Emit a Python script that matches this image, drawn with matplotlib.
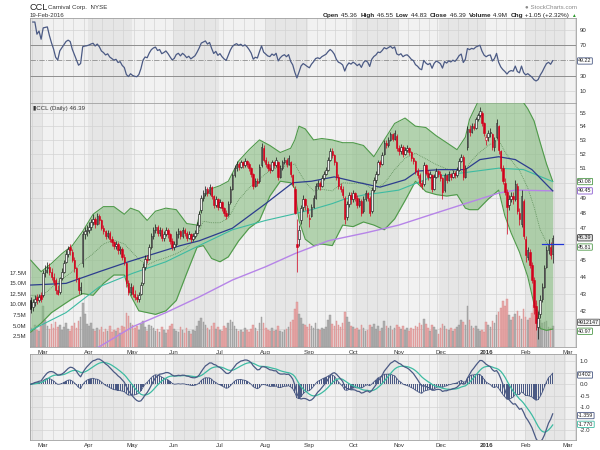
import numpy as np
import pandas as pd
import matplotlib
matplotlib.use("Agg")
import matplotlib.pyplot as plt
import matplotlib.transforms as mtransforms
from matplotlib.ticker import FixedLocator, FixedFormatter, NullLocator

plt.rcParams['font.family'] = ['Liberation Sans', 'DejaVu Sans']

# ---------------- data ----------------
HOLIDAYS = ['2015-04-03', '2015-05-25', '2015-07-03', '2015-09-07', '2015-11-26',
            '2015-12-25', '2016-01-01', '2016-01-18', '2016-02-15']
START, END, AXIS_END = '2015-02-20', '2016-02-19', '2016-03-11'

OPEN = [42.6, 42.2, 42.5, 42.8, 42.6, 42.9,
        42.9, 44.3, 44.5, 44.6, 44.3, 44.0, 43.8, 43.2, 43.1, 43.9, 44.3, 44.9, 45.4, 45.8, 45.5, 45.0, 44.5, 43.9, 43.2, 44.8, 46.6, 46.8,
        46.9, 47.1, 47.4, 47.6, 47.3, 47.8, 47.5, 47.0, 46.8, 46.5, 46.7, 46.3, 46.1, 45.9, 46.0, 45.6, 45.7, 45.2, 44.8, 43.6, 43.1,
        43.4, 43.0, 42.8, 42.7, 43.0, 43.6, 44.6, 45.1, 45.1, 45.8, 46.5, 46.9, 47.1, 46.7, 46.9, 46.4, 46.6, 46.9, 46.6, 46.2,
        45.8, 46.0, 46.6, 46.8, 46.5, 46.9, 46.7, 46.4, 46.6, 46.3, 46.5, 46.7, 47.2, 48.2, 49.0, 49.3, 49.6, 49.3, 49.7, 49.1, 48.5, 48.9,
        48.4, 48.7, 48.3, 48.0, 47.9, 48.7, 49.6, 50.5, 51.0, 51.3, 51.1, 51.4, 51.2, 51.5, 51.3, 51.0, 50.6, 49.8, 50.1, 50.1, 51.2, 52.4,
        51.6, 51.3, 51.0, 50.9, 51.4, 51.2, 51.4, 50.4, 51.0, 51.4, 51.6, 51.3, 51.4, 50.5, 49.6, 46.0, 46.3, 47.5, 48.4, 48.9, 48.3,
        47.6, 47.8, 48.4, 49.0, 49.8, 50.0, 49.8, 50.3, 50.6, 50.9, 51.6, 52.2, 51.9, 51.4, 50.4, 49.8, 49.6, 49.0, 47.7, 48.6, 49.2,
        48.9, 49.3, 49.0, 48.5, 48.8, 48.1, 48.9, 49.3, 49.0, 48.1, 49.5, 50.2, 50.6, 51.4, 51.3, 52.0, 52.8, 52.6, 53.0, 53.4, 53.1, 53.3,
        52.4, 52.2, 52.5, 52.0, 52.3, 52.4, 52.1, 51.7, 51.5, 50.8, 50.5, 50.0, 49.9, 51.2, 50.7, 50.4, 50.5, 49.6, 50.4, 50.8,
        50.6, 50.3, 49.5, 50.5, 50.2, 50.6, 50.4, 50.7, 50.5, 50.9, 51.5, 51.8, 50.4, 52.5, 53.8, 53.6, 54.0, 53.9, 54.5, 54.8, 55.0, 54.2,
        53.0, 53.2, 53.5, 53.4, 52.5, 53.2, 54.0, 52.2, 51.0, 50.0, 49.4, 48.5, 48.9, 49.1, 48.9, 49.8, 48.0, 47.3, 48.8,
        46.3, 45.2, 45.5, 44.7, 43.8, 42.3, 41.1, 41.8, 42.7, 43.4, 44.6, 45.6, 45.8, 45.36]
HIGH = [42.8, 42.7, 42.9, 43.0, 43.0, 43.1,
        44.4, 44.7, 44.9, 44.8, 44.5, 44.2, 43.9, 43.5, 44.0, 44.5, 45.0, 45.6, 45.9, 46.0, 45.7, 45.2, 44.6, 44.0, 43.7, 46.8, 47.1, 47.2,
        47.4, 47.6, 47.9, 47.7, 48.0, 47.9, 47.6, 47.2, 46.9, 46.9, 46.8, 46.5, 46.2, 46.2, 46.1, 45.9, 45.8, 45.4, 44.9, 43.8, 43.6,
        43.5, 43.2, 43.0, 43.1, 43.7, 44.8, 45.3, 45.3, 46.0, 46.7, 47.1, 47.3, 47.2, 47.1, 47.0, 46.8, 47.1, 47.0, 46.7, 46.4,
        46.2, 46.8, 47.0, 46.9, 47.1, 47.0, 46.8, 46.8, 46.7, 46.7, 46.9, 47.4, 48.1, 49.2, 49.5, 49.8, 49.7, 49.9, 49.8, 49.2, 49.1, 49.0,
        48.9, 48.8, 48.4, 48.2, 48.8, 49.8, 50.7, 51.2, 51.5, 51.4, 51.6, 51.5, 51.7, 51.6, 51.4, 51.1, 50.7, 50.3, 50.3, 51.3, 52.8, 52.6,
        51.8, 51.5, 51.3, 51.6, 51.5, 51.8, 51.5, 51.2, 51.6, 51.8, 51.7, 51.9, 51.5, 50.6, 49.8, 47.6, 47.2, 48.5, 49.2, 49.0, 48.5,
        47.9, 48.6, 49.2, 50.0, 50.2, 50.1, 50.5, 50.8, 51.1, 51.8, 52.4, 52.4, 52.0, 51.5, 50.6, 50.0, 49.8, 49.1, 48.8, 49.4, 49.4,
        49.5, 49.4, 49.2, 49.0, 48.9, 49.1, 49.5, 49.4, 49.1, 49.7, 50.4, 50.8, 51.6, 51.6, 52.1, 53.0, 53.0, 53.2, 53.6, 53.5, 53.7, 53.4,
        52.6, 52.7, 52.6, 52.5, 52.6, 52.5, 52.2, 51.8, 51.6, 51.0, 50.7, 50.2, 51.4, 51.3, 50.9, 50.8, 50.6, 50.6, 51.0, 50.9,
        50.8, 50.4, 50.7, 50.6, 50.8, 50.7, 50.9, 50.8, 51.1, 51.7, 52.0, 51.9, 51.2, 54.0, 54.1, 54.2, 54.2, 54.7, 55.0, 55.4, 55.1, 54.3,
        53.4, 53.7, 53.9, 53.5, 53.2, 54.5, 54.1, 52.3, 51.2, 50.3, 49.6, 49.2, 49.4, 49.4, 50.2, 50.0, 48.3, 49.5, 48.9,
        46.5, 45.8, 45.7, 44.9, 44.0, 42.6, 42.0, 42.9, 43.6, 44.7, 45.9, 46.3, 46.1, 46.55]
LOW = [41.9, 42.0, 42.3, 42.4, 42.5, 42.5,
       42.8, 44.0, 44.2, 44.1, 43.8, 43.5, 43.0, 42.9, 43.0, 43.8, 44.2, 44.8, 45.2, 45.3, 44.9, 44.3, 43.7, 43.0, 43.0, 44.6, 46.3, 46.5,
       46.7, 46.9, 47.2, 47.0, 47.2, 47.3, 46.9, 46.6, 46.3, 46.4, 46.1, 45.9, 45.7, 45.7, 45.4, 45.4, 45.0, 44.7, 43.4, 42.9, 42.9,
       42.8, 42.6, 42.5, 42.5, 42.9, 43.5, 44.4, 44.8, 45.0, 45.7, 46.3, 46.7, 46.5, 46.5, 46.2, 46.2, 46.5, 46.4, 46.0, 45.6,
       45.6, 45.9, 46.4, 46.3, 46.4, 46.5, 46.2, 46.3, 46.1, 46.2, 46.4, 46.6, 47.1, 48.0, 48.8, 49.1, 49.1, 49.2, 48.9, 48.3, 48.4, 48.2,
       48.3, 48.1, 47.8, 47.6, 47.8, 48.6, 49.5, 50.4, 50.8, 50.9, 51.0, 51.0, 51.1, 51.1, 50.8, 50.4, 49.6, 49.7, 49.8, 50.0, 51.1, 51.4,
       51.1, 50.8, 50.7, 50.8, 51.0, 51.1, 50.2, 50.3, 50.9, 51.3, 51.1, 51.2, 50.4, 49.7, 47.9, 44.3, 45.9, 47.3, 48.1, 48.2, 47.7,
       47.1, 47.7, 48.3, 48.9, 49.6, 49.5, 49.7, 50.2, 50.5, 50.8, 51.5, 51.7, 51.2, 50.2, 49.6, 49.4, 49.0, 47.3, 47.5, 48.4, 48.6,
       48.7, 48.8, 48.3, 48.4, 47.8, 48.0, 48.8, 48.8, 47.8, 48.0, 49.4, 50.0, 50.5, 51.1, 51.2, 51.9, 52.4, 52.5, 52.9, 52.9, 53.0, 52.2,
       51.9, 52.0, 51.8, 51.9, 52.1, 51.9, 51.5, 51.3, 50.6, 50.3, 49.8, 49.6, 49.8, 50.5, 50.2, 50.3, 49.4, 49.5, 50.3, 50.4,
       50.1, 48.9, 49.4, 50.0, 50.1, 50.2, 50.3, 50.3, 50.4, 50.8, 51.4, 50.2, 50.3, 52.3, 53.3, 53.5, 53.7, 53.8, 54.4, 54.7, 54.0, 53.3,
       52.6, 52.9, 53.2, 52.3, 52.2, 53.1, 52.0, 50.8, 49.9, 49.2, 46.6, 48.2, 48.7, 48.6, 48.8, 47.9, 47.2, 47.1, 46.3,
       44.9, 45.0, 44.5, 43.6, 41.8, 40.9, 40.4, 41.6, 42.5, 43.3, 44.5, 45.4, 45.1, 44.83]
CLOSE = [42.1, 42.5, 42.7, 42.6, 42.8, 42.7,
         44.2, 44.4, 44.6, 44.3, 44.0, 43.7, 43.2, 43.0, 43.9, 44.3, 44.8, 45.4, 45.7, 45.6, 45.0, 44.5, 43.9, 43.2, 43.4, 46.6, 46.8, 46.9,
         47.1, 47.4, 47.6, 47.3, 47.8, 47.5, 47.0, 46.8, 46.5, 46.7, 46.3, 46.1, 45.9, 46.0, 45.6, 45.7, 45.2, 44.9, 43.6, 43.1, 43.4,
         43.0, 42.8, 42.7, 42.9, 43.5, 44.6, 45.1, 45.0, 45.8, 46.5, 46.9, 47.1, 46.7, 46.9, 46.4, 46.6, 46.9, 46.6, 46.2, 45.8,
         46.0, 46.6, 46.8, 46.5, 46.9, 46.7, 46.4, 46.6, 46.3, 46.5, 46.7, 47.2, 47.9, 49.0, 49.3, 49.6, 49.3, 49.7, 49.1, 48.5, 48.9, 48.4,
         48.7, 48.3, 48.0, 47.8, 48.6, 49.6, 50.5, 51.0, 51.3, 51.1, 51.4, 51.2, 51.5, 51.3, 51.0, 50.6, 49.8, 50.1, 50.0, 51.1, 52.5, 51.6,
         51.3, 51.0, 50.9, 51.4, 51.2, 51.6, 50.4, 51.0, 51.4, 51.6, 51.3, 51.7, 50.6, 49.9, 48.0, 45.8, 46.9, 48.3, 48.9, 48.5, 48.0,
         47.6, 48.4, 49.0, 49.8, 50.0, 49.8, 50.3, 50.6, 50.9, 51.6, 52.2, 51.9, 51.4, 50.4, 49.8, 49.6, 49.2, 47.6, 48.6, 49.2, 48.9,
         49.3, 49.0, 48.5, 48.8, 48.0, 48.9, 49.3, 49.0, 48.0, 49.5, 50.2, 50.6, 51.4, 51.3, 51.9, 52.8, 52.6, 53.0, 53.4, 53.1, 53.5, 52.4,
         52.2, 52.5, 52.0, 52.3, 52.4, 52.1, 51.7, 51.5, 50.8, 50.5, 50.0, 49.8, 51.2, 50.7, 50.4, 50.6, 49.6, 50.4, 50.8, 50.6,
         50.3, 49.4, 50.5, 50.2, 50.6, 50.4, 50.7, 50.5, 50.9, 51.5, 51.8, 50.4, 51.0, 53.8, 53.6, 54.0, 53.9, 54.5, 54.8, 55.1, 54.2, 53.5,
         53.2, 53.5, 53.6, 52.5, 53.0, 54.2, 52.3, 51.0, 50.1, 49.4, 48.4, 48.9, 49.1, 48.9, 49.9, 48.1, 47.6, 49.1, 46.5,
         45.3, 45.6, 44.7, 43.8, 42.2, 41.3, 41.6, 42.6, 43.4, 44.5, 45.6, 46.0, 45.34, 46.39]
VOLUME_M = [4.5, 3.8, 5.2, 4.0, 3.6, 4.8,
            9.5, 6.2, 4.9, 4.1, 5.3, 4.4, 5.8, 4.7, 5.1, 3.9, 4.6, 5.5, 4.2, 3.8, 4.9, 5.6, 4.3, 6.1, 7.0, 10.2, 7.8, 5.4,
            4.8, 5.5, 4.1, 3.6, 4.4, 3.9, 4.7, 3.5, 4.2, 3.8, 4.9, 3.4, 4.0, 3.7, 4.5, 3.3, 5.0, 4.6, 7.9, 7.2, 5.6,
            5.1, 4.3, 4.8, 3.9, 5.4, 6.0, 4.7, 3.8, 5.2, 4.9, 4.4, 3.6, 4.1, 3.5, 4.6, 3.9, 3.3, 4.0, 4.8, 5.3,
            4.2, 3.8, 3.5, 4.6, 3.9, 3.2, 4.4, 3.7, 3.1, 4.0, 3.6, 4.9, 6.1, 6.8, 5.9, 5.2, 4.5, 4.0, 4.8, 5.5, 4.1, 4.6,
            4.0, 3.7, 5.0, 4.4, 5.6, 6.3, 5.9, 4.8, 4.2, 3.6, 4.0, 3.5, 4.3, 3.9, 3.4, 4.1, 5.2, 4.5, 3.8, 5.7, 6.9, 5.5,
            4.3, 3.9, 3.6, 4.5, 3.7, 4.0, 4.9, 3.8, 3.5, 3.9, 4.2, 4.6, 5.8, 6.4, 8.8, 10.5, 7.6, 6.8, 5.4, 5.1, 4.7,
            5.3, 4.8, 4.4, 5.6, 4.2, 3.9, 4.5, 4.1, 4.7, 6.2, 7.5, 5.4, 4.8, 6.0, 5.1, 4.6, 5.5, 8.3, 6.9, 5.8, 5.0,
            4.6, 4.1, 4.5, 3.9, 5.2, 4.4, 3.8, 4.0, 5.1, 4.7, 5.3, 4.2, 4.9, 3.7, 4.4, 6.0, 4.8, 4.3, 5.0, 3.9, 4.5, 5.2,
            4.6, 4.2, 4.8, 3.9, 4.4, 3.7, 4.5, 4.1, 5.0, 4.6, 5.6, 5.1, 6.6, 5.3, 4.4, 3.8, 5.2, 4.6, 4.0, 2.9,
            4.3, 5.4, 4.8, 4.1, 3.9, 4.5, 3.7, 4.2, 4.7, 5.1, 6.4, 5.8, 5.2, 9.6, 6.3, 5.0, 4.4, 4.9, 4.1, 3.6, 3.9, 3.4,
            5.8, 5.2, 4.7, 6.0, 5.5, 7.4, 8.2, 9.1, 10.8, 9.6, 11.2, 7.5, 6.4, 6.9, 7.8, 8.5, 7.3, 6.6, 8.9,
            7.1, 6.2, 6.8, 7.9, 9.8, 10.4, 8.7, 6.3, 5.5, 5.9, 6.1, 4.6, 4.3, 4.9]

# Bollinger band edges (read at these trading-day positions)
BB_DAYS = [0, 5, 10, 15, 20, 25, 30, 35, 40, 45, 48, 52, 56, 60, 65, 70, 75, 80, 83, 87, 91, 95, 100, 105, 110,
           115, 120, 125, 127, 129, 132, 136, 140, 145, 150, 155, 160, 165, 170, 175, 180, 185, 190, 195, 200,
           205, 209, 211, 215, 220, 225, 228, 231, 235, 239, 242, 245, 248, 251]
BB_UPPER = [45.0, 44.3, 44.8, 45.4, 45.9, 46.8, 47.9, 48.4, 48.4, 47.9, 48.3, 48.1, 47.5, 48.1, 48.3, 48.2, 47.3, 47.2, 49.0,
            49.6, 49.8, 50.1, 51.5, 52.3, 53.0, 52.6, 52.1, 52.4, 53.0, 54.0, 53.8, 53.0, 53.1, 53.0, 52.8, 52.8, 52.6,
            51.8, 53.0, 54.2, 54.6, 54.0, 53.9, 53.3, 52.8, 52.3, 53.2, 54.5, 55.8, 56.3, 56.5, 56.5, 56.4, 56.2, 55.3,
            54.4, 52.8, 51.3, 50.1]
BB_LOWER = [40.8, 41.3, 41.9, 42.3, 42.7, 43.0, 42.9, 43.6, 44.1, 44.1, 42.9, 42.0, 41.9, 41.8, 42.0, 42.6, 44.2, 45.8, 45.9,
            45.1, 44.9, 45.2, 46.2, 47.0, 47.5, 49.1, 50.1, 50.0, 49.6, 47.5, 46.3, 45.9, 46.0, 45.9, 47.2, 47.1, 47.4,
            47.2, 46.9, 47.6, 48.8, 50.1, 49.4, 49.2, 49.1, 49.2, 48.3, 48.2, 48.2, 48.9, 49.5, 47.8, 46.7, 45.5, 44.0,
            42.4, 41.0, 40.9, 40.97]
MA_BLUE_DAYS = [0, 17, 33, 47, 57, 72, 81, 97, 113, 126, 135, 146, 158, 168, 180, 186, 197, 209, 216, 225, 233, 241, 251]
MA_BLUE = [43.5, 43.6, 44.3, 44.9, 45.3, 45.9, 46.2, 47.0, 48.6, 50.0, 50.1, 50.4, 50.0, 49.7, 50.2, 50.8, 50.9, 50.9,
           51.6, 51.8, 51.6, 50.9, 49.45]
MA_TEAL_DAYS = [0, 17, 33, 49, 65, 81, 97, 113, 126, 135, 145, 151, 161, 167, 177, 193, 209, 225, 237, 251]
MA_TEAL = [40.9, 41.9, 43.4, 44.2, 44.9, 45.9, 46.9, 47.5, 47.9, 48.2, 48.6, 48.9, 49.2, 49.3, 49.5, 50.4, 50.7, 51.0,
           50.9, 50.08]
MA_PURPLE_DAYS = [20, 33, 49, 65, 81, 97, 113, 127, 143, 161, 177, 193, 209, 225, 233, 251]
MA_PURPLE = [39.3, 40.0, 41.1, 41.9, 42.8, 43.8, 44.6, 45.4, 46.2, 46.7, 47.2, 47.9, 48.6, 49.3, 49.5, 49.45]
PRICE_LINE_DAYS = [245.7, 256.0]
PRICE_LINE_VALUE = 46.0

PRICE_TICKS = list(range(41, 56))
PRICE_TICK_LABELS = [42, 43, 44, 45, 47, 48, 49, 51, 52, 53, 54, 55]
RSI_TICKS = [10, 30, 50, 70, 90]
RSI_TICK_LABELS = [10, 30, 70, 90]
MACD_TICKS = [-2.0, -1.5, -1.0, -0.5, 0.0, 0.5, 1.0]
MACD_TICK_LABELS = [-2.0, -1.0, -0.5, 0.0, 1.0]
VOL_TICKS = [2.5, 5.0, 7.5, 10.0, 12.5, 15.0, 17.5]

# ---------------- derived ----------------
hol = pd.to_datetime(HOLIDAYS)
all_days = pd.bdate_range(START, AXIS_END)
all_days = all_days[~all_days.isin(hol)]
dates = all_days[all_days <= pd.Timestamp(END)]
n = len(dates)
for arr in (OPEN, HIGH, LOW, CLOSE, VOLUME_M):
    assert len(arr) == n, (len(arr), n)

O = np.array(OPEN); Hh = np.array(HIGH); Ll = np.array(LOW); C = np.array(CLOSE)
x = np.arange(n)
cs = pd.Series(C)
d = cs.diff()
ag = d.clip(lower=0).ewm(alpha=1/14, adjust=True).mean()
al = (-d.clip(upper=0)).ewm(alpha=1/14, adjust=True).mean()
rsi = 100 - 100 / (1 + ag / al)
ema12 = cs.ewm(span=12, adjust=False).mean()
ema26 = cs.ewm(span=26, adjust=False).mean()
macd = ema12 - ema26
signal = macd.ewm(span=9, adjust=False).mean()
hist = macd - signal

s_all = pd.Series(np.arange(len(all_days)), index=all_days)
month_first = s_all.groupby([all_days.year, all_days.month]).first()
month_keys = list(month_first.index)
week_first = s_all.groupby(all_days.to_period('W')).first().values

# ---------------- style ----------------
W, H = 600, 450
BG_L, BG_D = '#f1f1f1', '#e6e6e6'
GRID = '#d3d3d3'
SPINE = '#a0a0a0'
NAVY = '#4b5a84'
TEAL = '#3dbba2'
TXT = '#333333'
FS = 4.4
BFS = 3.9
XL = (-0.58, 262.2)

fig = plt.figure(figsize=(6, 4.5), dpi=100)
fig.patch.set_facecolor('white')


def rect(l, t, r, b):
    return [l / W, 1 - b / H, (r - l) / W, (b - t) / H]


L, R = 29.5, 576
ax_rsi = fig.add_axes(rect(L, 17.5, R, 102.5))
ax_bg = fig.add_axes(rect(L, 103, R, 346.7))
ax_vol = fig.add_axes(rect(L, 103, R, 346.7))
ax_p = fig.add_axes(rect(L, 103, R, 346.7))
ax_m = fig.add_axes(rect(L, 354.3, R, 440))


def background(ax, hlines):
    ax.set_facecolor(BG_L)
    for i, (yr, mo) in enumerate(month_keys):
        s = month_first.iloc[i]
        e = month_first.iloc[i + 1] if i + 1 < len(month_keys) else len(all_days) + 5
        if mo % 2 == 0:
            ax.axvspan(s - 0.5, e - 0.5, color=BG_D, lw=0, zorder=0)
    for w in week_first:
        ax.axvline(w - 0.5, color=GRID, lw=0.5, zorder=0.5)
    for h in hlines:
        ax.axhline(h, color=GRID, lw=0.5, zorder=0.5)
    ax.set_xlim(*XL)
    for sp in ax.spines.values():
        sp.set_color(SPINE); sp.set_linewidth(0.6)
    ax.yaxis.tick_right()
    ax.tick_params(axis='both', length=0, labelsize=FS, labelcolor=TXT, pad=2.5)


def month_labels(ax):
    idx = [int(v) for v in month_first.values[1:]]
    labs = []
    for (yr, mo) in month_keys[1:]:
        labs.append('2016' if (yr == 2016 and mo == 1) else pd.Timestamp(yr, mo, 1).strftime('%b'))
    ax.set_xticks(idx)
    ax.set_xticklabels(labs)
    for t in ax.get_xticklabels():
        if t.get_text() == '2016':
            t.set_fontweight('bold')


def value_box(ax, y, txt, ec, fc='white'):
    tr = mtransforms.blended_transform_factory(ax.transAxes, ax.transData)
    ax.text(1.004, y, txt, transform=tr, fontsize=BFS, va='center', ha='left', color='#222',
            bbox=dict(boxstyle='round,pad=0.12', fc=fc, ec=ec, lw=0.6), clip_on=False, zorder=30)


# ---------------- RSI panel ----------------
background(ax_rsi, [10, 90])
ax_rsi.set_ylim(-4.9, 105.9)
ax_rsi.axhline(70, color='#8e8e8e', lw=0.7, zorder=1)
ax_rsi.axhline(30, color='#8e8e8e', lw=0.7, zorder=1)
ax_rsi.axhline(50, color='#8e8e8e', lw=0.6, ls='-.', zorder=1)
ax_rsi.plot(x, rsi, color=NAVY, lw=0.9, zorder=3)
ax_rsi.set_yticks(RSI_TICK_LABELS)
ax_rsi.set_yticklabels([str(v) for v in RSI_TICK_LABELS])
ax_rsi.set_xticks([])
value_box(ax_rsi, 49.22, '49.22', NAVY)

# ---------------- price panel ----------------
ax_bg.set_yscale('log')
ax_bg.set_ylim(40.0, 55.73)
background(ax_bg, PRICE_TICKS)
ax_bg.yaxis.set_major_locator(FixedLocator(PRICE_TICK_LABELS))
ax_bg.yaxis.set_major_formatter(FixedFormatter([str(v) for v in PRICE_TICK_LABELS]))
ax_bg.yaxis.set_minor_locator(NullLocator())
month_labels(ax_bg)

prev = np.r_[C[0], C[:-1]]
upday = C >= prev
ax_vol.patch.set_visible(False)
ax_vol.set_xlim(*XL)
ax_vol.set_ylim(0, 57.5)
vcol = np.where(upday, '#ababab', '#e8a4a4')
vedge = np.where(upday, '#909090', '#d48686')
ax_vol.bar(x, VOLUME_M, width=0.78, color=vcol, edgecolor=vedge, lw=0.3, alpha=0.9, zorder=2)
ax_vol.yaxis.tick_left()
ax_vol.set_yticks(VOL_TICKS)
ax_vol.set_yticklabels(['%.1fM' % v for v in VOL_TICKS])
ax_vol.tick_params(axis='y', length=0, labelsize=FS, labelcolor=TXT, pad=2)
ax_vol.set_xticks([])
for sp in ax_vol.spines.values():
    sp.set_visible(False)
value_box(ax_vol, 5.75, '4912147', '#555555', fc='#f4f4f4')

ax_p.patch.set_visible(False)
ax_p.set_yscale('log')
ax_p.set_ylim(40.0, 55.73)
ax_p.set_xlim(*XL)
ax_p.set_xticks([]); ax_p.set_yticks([])
ax_p.yaxis.set_minor_locator(NullLocator())
for sp in ax_p.spines.values():
    sp.set_visible(False)

bbu = np.array(BB_UPPER); bbl = np.array(BB_LOWER)
ax_p.fill_between(BB_DAYS, bbl, bbu, color='#7fba78', alpha=0.55, lw=0, zorder=3)
ax_p.plot(BB_DAYS, bbu, color='#4f9a4a', lw=0.8, zorder=4)
ax_p.plot(BB_DAYS, bbl, color='#4f9a4a', lw=0.8, zorder=4)
ax_p.plot(BB_DAYS, (bbu + bbl) / 2, color='#5e8f5a', lw=0.6, ls=(0, (1, 1.2)), zorder=4)
ax_p.plot(MA_PURPLE_DAYS, MA_PURPLE, color='#b684e8', lw=1.0, zorder=4)
ax_p.plot(MA_TEAL_DAYS, MA_TEAL, color=TEAL, lw=0.8, zorder=4)
ax_p.plot(MA_BLUE_DAYS, MA_BLUE, color='#2d3d8e', lw=0.9, zorder=4)

ccol = np.where(upday, '#111111', '#d3001c')
lo_w = np.minimum(Ll, np.minimum(O, C)); hi_w = np.maximum(Hh, np.maximum(O, C))
ax_p.vlines(x, lo_w, hi_w, colors=ccol, lw=0.5, zorder=6)
b_lo = np.minimum(O, C); b_hi = np.maximum(O, C)
b_hi = np.maximum(b_hi, b_lo + 0.06)
face = [('#efefef' if (c > o) else col) for c, o, col in zip(C, O, ccol)]
ax_p.bar(x, b_hi - b_lo, bottom=b_lo, width=0.72, color=face, edgecolor=ccol, lw=0.4, zorder=7)
ax_p.plot(PRICE_LINE_DAYS, [PRICE_LINE_VALUE] * 2, color='#1f35d6', lw=0.9, zorder=8)
ax_p.text(0.006, 0.988, '\u25aeCCL (Daily) 46.39', transform=ax_p.transAxes, fontsize=FS, va='top',
          ha='left', color=TXT, zorder=20)

value_box(ax_p, 50.08, '50.08', '#4f9a4a')
value_box(ax_p, 49.45, '49.45', '#8a5ad0')
value_box(ax_p, 46.39, '46.39', '#333333', fc='#e8e8e8')
value_box(ax_p, 45.81, '45.81', '#4f9a4a')
value_box(ax_p, 40.85, '40.97', '#4f9a4a')

# ---------------- MACD panel ----------------
background(ax_m, MACD_TICKS)
ax_m.set_ylim(-2.42, 1.30)
ax_m.bar(x, hist, width=0.55, color=NAVY, lw=0, zorder=2)
ax_m.plot(x, hist, color=NAVY, lw=0.6, zorder=3)
ax_m.plot(x, signal, color=TEAL, lw=0.9, zorder=4)
ax_m.plot(x, macd, color=NAVY, lw=0.9, zorder=5)
ax_m.set_yticks(MACD_TICK_LABELS)
ax_m.set_yticklabels(['%.1f' % v for v in MACD_TICK_LABELS])
month_labels(ax_m)
value_box(ax_m, 0.402, '0.402', NAVY)
value_box(ax_m, -1.359, '-1.359', NAVY)
value_box(ax_m, -1.74, '-1.770', TEAL)

# ---------------- header ----------------
fig.text(30 / W, 1 - 9.6 / H, 'CCL', fontsize=6.6, color='#222', va='baseline')
fig.text(48 / W, 1 - 9.2 / H, 'Carnival Corp.  NYSE', fontsize=FS, color='#333', va='baseline')
fig.text(30 / W, 1 - 16.8 / H, '19-Feb-2016', fontsize=FS, color='#333', va='baseline')
fig.text(577 / W, 1 - 8.8 / H, '\u25cf StockCharts.com', fontsize=FS, color='#8a8a8a', va='baseline', ha='right')

segs = [('Open', 1), (' 45.36  ', 0), ('High', 1), (' 46.55  ', 0), ('Low', 1), (' 44.83  ', 0),
        ('Close', 1), (' 46.39  ', 0), ('Volume', 1), (' 4.9M  ', 0), ('Chg', 1), (' +1.05 (+2.32%) ', 0)]
renderer = fig.canvas.get_renderer()
texts = []
for s, b in segs:
    t = fig.text(0, 1 - 17.0 / H, s, fontsize=FS + 0.2, fontweight='bold' if b else 'normal',
                 color='#222', va='baseline')
    texts.append(t)
widths = [t.get_window_extent(renderer).width for t in texts]
xpos = 571 - sum(widths)
for t, w in zip(texts, widths):
    t.set_x(xpos / W)
    xpos += w
fig.text(xpos / W, 1 - 17.0 / H, '\u25b2', fontsize=3.4, color='#2a9a2a', va='baseline')

fig.savefig('out.png', dpi=100)
